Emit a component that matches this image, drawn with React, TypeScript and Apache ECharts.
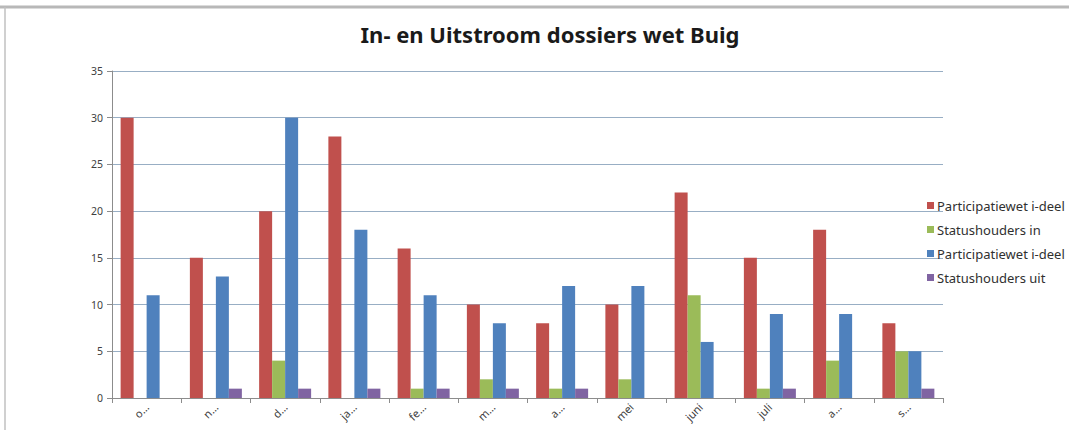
import React, { useEffect, useRef } from "react";
import * as echarts from "echarts";

const categories = ["o…", "n…", "d…", "ja…", "fe…", "m…", "a…", "mei", "juni", "juli", "a…", "s…"];
const seriesNames = ["Participatiewet i-deel", "Statushouders in", "Participatiewet i-deel ", "Statushouders uit"];
const participatieIn = [30, 15, 20, 28, 16, 10, 8, 10, 22, 15, 18, 8];
const statushoudersIn = [0, 0, 4, 0, 1, 2, 1, 2, 11, 1, 4, 5];
const participatieUit = [11, 13, 30, 18, 11, 8, 12, 12, 6, 9, 9, 5];
const statushoudersUit = [0, 1, 1, 1, 1, 1, 1, 0, 0, 1, 0, 1];
const colors = ["#C0504D", "#9BBB59", "#4F81BD", "#8064A2"];

export default function App() {
  const ref = useRef<HTMLDivElement>(null);
  useEffect(() => {
    if (!ref.current) return;
    const chart = echarts.init(ref.current, undefined, { renderer: "svg" });
    const values = [participatieIn, statushoudersIn, participatieUit, statushoudersUit];
    chart.setOption({
      animation: false,
      backgroundColor: "#ffffff",
      title: {
        text: "In- en Uitstroom dossiers wet Buig",
        left: 545,
        textAlign: "center",
        top: 18,
        textStyle: { fontFamily: "Noto Sans", fontSize: 22, fontWeight: "bold", color: "#1a1a1a" },
      },
      graphic: [
        { type: "line", shape: { x1: 0, y1: 7, x2: 1069, y2: 7 }, style: { stroke: "#B8B8B8", lineWidth: 3 } },
        { type: "line", shape: { x1: 5, y1: 7, x2: 5, y2: 430 }, style: { stroke: "#C0C0C0", lineWidth: 1.5 } },
      ],
      legend: {
        orient: "vertical",
        left: 922,
        top: 194,
        itemWidth: 7,
        itemHeight: 7,
        itemGap: 11,
        icon: "rect",
        data: seriesNames,
        textStyle: { fontFamily: "Noto Sans", fontSize: 13, color: "#303030", padding: [0, 0, 0, -2] },
      },
      grid: { left: 112, right: 126, top: 71, bottom: 32, containLabel: false },
      xAxis: {
        type: "category",
        data: categories,
        axisLine: { lineStyle: { color: "#8C8C8C" } },
        axisTick: { show: true, length: 5, lineStyle: { color: "#8C8C8C" } },
        axisLabel: { rotate: 45, fontFamily: "Noto Sans", fontSize: 11, color: "#404040", margin: 7 },
      },
      yAxis: {
        type: "value",
        min: 0,
        max: 35,
        interval: 5,
        axisLine: { show: true, lineStyle: { color: "#8C8C8C" } },
        axisTick: { show: true, length: 5, lineStyle: { color: "#8C8C8C" } },
        axisLabel: { fontFamily: "Noto Sans", fontSize: 10.5, color: "#404040", margin: 9 },
        splitLine: { lineStyle: { color: "#98AEC4", width: 1 } },
      },
      series: seriesNames.map((name, i) => ({
        name,
        type: "bar",
        data: values[i],
        barWidth: 13,
        barGap: "0%",
        itemStyle: { color: colors[i] },
      })),
    });
    return () => chart.dispose();
  }, []);
  return <div ref={ref} style={{ position: "fixed", left: 0, top: 0, width: 1069, height: 430 }} />;
}
